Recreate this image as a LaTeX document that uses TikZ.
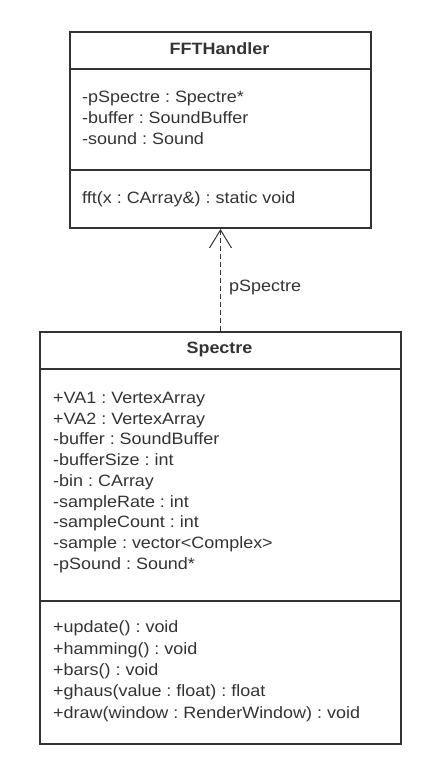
\documentclass[tikz,border=0pt]{standalone}
\usepackage{fontspec}
\setmainfont{Liberation Sans}[FakeStretch=1.095]
\usetikzlibrary{arrows.meta}
\definecolor{ink}{HTML}{333333}
\frenchspacing
\begin{document}
\begin{tikzpicture}[x=1pt,y=-1pt,
  classbox/.style={draw=ink,line width=2pt,rectangle,inner sep=0pt,anchor=north west},
  txt/.style={anchor=base west,inner sep=0pt,text=ink,font=\fontsize{16.4}{20}\selectfont\frenchspacing},
  ttl/.style={anchor=base,inner sep=0pt,text=ink,font=\fontsize{16.4}{20}\selectfont\bfseries},
  sep/.style={draw=ink,line width=2pt}]
\useasboundingbox (0,0) rectangle (442,784);
% FFTHandler
\node[classbox,minimum width=301pt,minimum height=196pt] (fft) at (69,31) {};
\draw[sep] (69,69) -- (370,69);
\draw[sep] (69,170) -- (370,170);
\node[ttl] (fftt) at (219.5,54.3) {FFTHandler};
\foreach \t [count=\i] in {{-pSpectre : Spectre*},{-buffer : SoundBuffer},{-sound : Sound}}
  \node[txt] (fa\i) at (82,{102.3+(\i-1)*21}) {\t};
\node[txt] (fm1) at (82,203) {fft(x : CArray\&) : static void};
% Spectre
\node[classbox,minimum width=361pt,minimum height=412pt] (spectre) at (39,331) {};
\draw[sep] (39,369) -- (400,369);
\draw[sep] (39,601) -- (400,601);
\node[ttl] (spt) at (219.5,353.3) {Spectre};
\foreach \t [count=\i] in {{+VA1 : VertexArray},{+VA2 : VertexArray},{-buffer : SoundBuffer},{-bufferSize : int},{-bin : CArray},{-sampleRate : int},{-sampleCount : int},{-sample : vector<Complex>},{-pSound : Sound*}}
  \node[txt] (sa\i) at (53,{403.3+(\i-1)*20.75}) {\t};
\foreach \t [count=\i] in {{+update() : void},{+hamming() : void},{+bars() : void},{+ghaus(value : float) : float},{+draw(window : RenderWindow) : void}}
  \node[txt] (sm\i) at (53,{632.7+(\i-1)*21.4}) {\t};
% association
\draw[draw=ink,line width=1pt,dash pattern=on 5pt off 3pt,-{Straight Barb[length=18pt,width=22pt,line width=1pt]}] (spectre.north) -- (fft.south);
\node[txt] (lbl) at (229,291.7) {pSpectre};
\end{tikzpicture}
\end{document}
